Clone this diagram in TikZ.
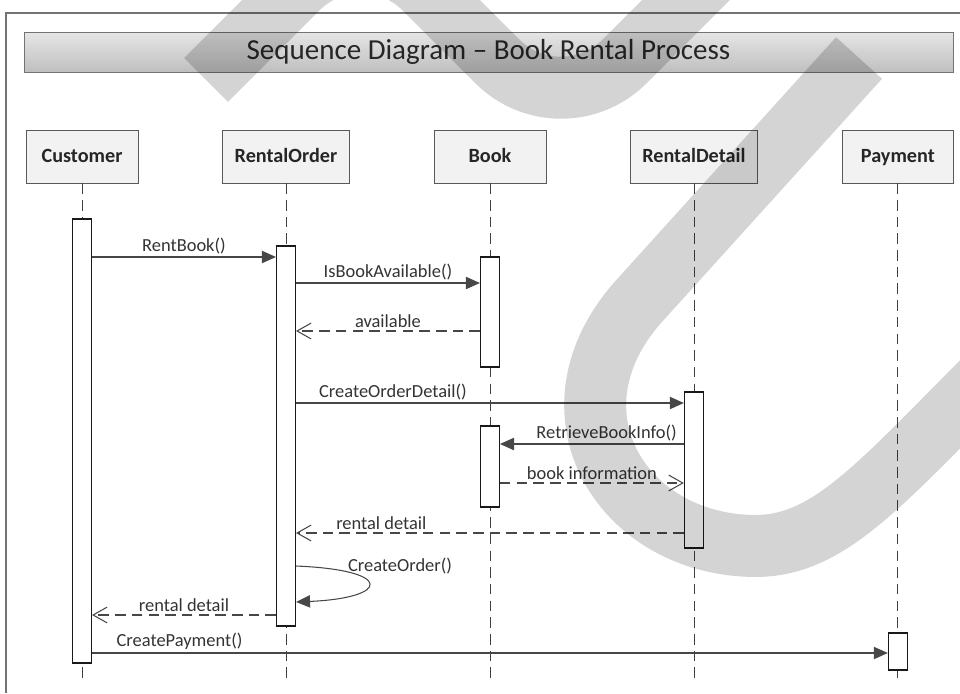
\documentclass[tikz,border=0pt]{standalone}
\usepackage{fontspec}
\setmainfont{Carlito}
\usetikzlibrary{arrows.meta,positioning,fit}

\begin{document}
\begin{tikzpicture}[x=0.02cm, y=-0.02cm, node distance=4.08cm,
    head/.style={draw=black!65, fill=black!5, minimum width=2.24cm, minimum height=1.06cm, inner xsep=0.24cm, text height=0.84em, text depth=0.2em, text=black!85, font=\fontsize{11.5}{14}\selectfont\bfseries},
    act/.style={draw=black!90, fill=white, line width=0.6pt, inner xsep=0.19cm, inner ysep=0pt},
    life/.style={draw=black!75, dash pattern=on 6pt off 3.5pt},
    call/.style={draw=black!72, line width=0.6pt, -{Triangle[length=8pt,width=7pt]}},
    reply/.style={draw=black!72, line width=0.6pt, dash pattern=on 6pt off 3.5pt, -{Straight Barb[length=8pt,width=9pt]}},
    msg/.style={above, inner sep=1.5pt, text=black!80, font=\fontsize{10.5}{12}\selectfont}]

    \useasboundingbox (0,0) rectangle (960,693);
    \draw[black!55, line width=0.8pt] (960,13) -- (6,13) -- (6,693);

    \node [draw=black!55, top color=black!10, bottom color=black!25, minimum width=18.58cm, minimum height=0.8cm, text=black!85, font=\fontsize{16.5}{19}\selectfont] (T) at (488.5,52) {Sequence Diagram -- Book Rental Process};

    \node [head] (C) at (82,156.5) {Customer};
    \node [head] (R) [right of=C] {RentalOrder};
    \node [head] (B) [right of=R] {Book};
    \node [head] (D) [right of=B] {RentalDetail};
    \node [head] (P) [right of=D] {Payment};

    \draw[life] (C.south) -- (C |- 0,682);
    \draw[life] (R.south) -- (R |- 0,682);
    \draw[life] (B.south) -- (B |- 0,682);
    \draw[life] (D.south) -- (D |- 0,682);
    \draw[life] (P.south) -- (P |- 0,682);

    \node [act, fit={(C |- 0,219) (C |- 0,663)}] (Ca) {};
    \node [act, fit={(R |- 0,246) (R |- 0,626)}] (Ra) {};
    \node [act, fit={(B |- 0,257) (B |- 0,367)}] (Ba) {};
    \node [act, fit={(B |- 0,426) (B |- 0,507)}] (Bb) {};
    \node [act, fit={(D |- 0,392) (D |- 0,548)}] (Da) {};
    \node [act, fit={(P |- 0,633) (P |- 0,670)}] (Pa) {};

    \draw[call] (Ca.east |- 0,257) -- node[msg] {RentBook()} (Ra.west |- 0,257);
    \draw[call] (Ra.east |- 0,283) -- node[msg] {IsBookAvailable()} (Ba.west |- 0,283);
    \draw[reply] (Ba.west |- 0,331) -- node[msg] {available} (Ra.east |- 0,331);
    \draw[call] (Ra.east |- 0,403) -- node[msg, pos=0.25] {CreateOrderDetail()} (Da.west |- 0,403);
    \draw[call] (Da.west |- 0,444) -- node[msg, pos=0.42] {RetrieveBookInfo()} (Bb.east |- 0,444);
    \draw[reply] (Bb.east |- 0,483) -- node[msg] {book information} (Da.west |- 0,483);
    \draw[reply] (Da.west |- 0,533) -- node[msg, pos=0.78] {rental detail} (Ra.east |- 0,533);
    \draw[call] (Ra.east |- 0,566) .. controls (395,570) and (390,598) .. (Ra.east |- 0,602);
    \node [msg, anchor=center] (CO) at (400,566) {CreateOrder()};
    \draw[reply] (Ra.west |- 0,615) -- node[msg] {rental detail} (Ca.east |- 0,615);
    \draw[call] (Ca.east |- 0,653) -- node[msg, pos=0.11] {CreatePayment()} (Pa.west |- 0,653);

    \begin{scope}
        \clip (0,0) rectangle (960,693);
        \draw[line width=1.24cm, black, opacity=0.17, rounded corners=1.8cm] (206,80) -- (361,-75) -- (561,125) -- (761,-75);
        \draw[line width=1.24cm, black, opacity=0.17] (859,58) -- (640,300) .. controls (540,410) and (620,545) .. (755,546) .. controls (830,546) and (880,484) .. (1000,364);
    \end{scope}

\end{tikzpicture}
\end{document}
